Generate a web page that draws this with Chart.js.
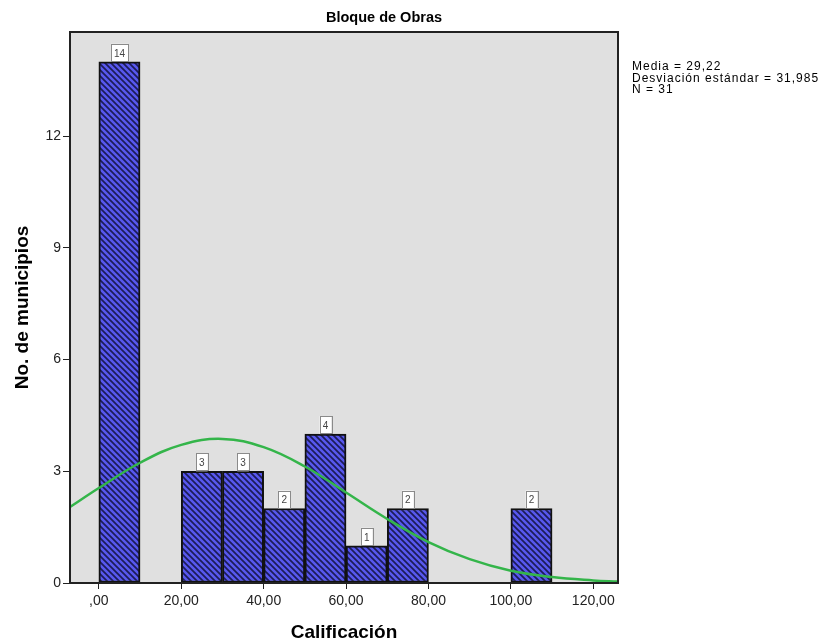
<!DOCTYPE html>
<html>
<head>
<meta charset="utf-8">
<script src="https://cdn.jsdelivr.net/npm/chart.js@4"></script>
<style>
  body { margin: 0; background: #fff; }
  #wrap { position: relative; width: 820px; height: 644px; }
  #stats {
    position: absolute; left: 632px; top: 61px;
    font: 12px "Liberation Sans", Arial, sans-serif;
    letter-spacing: 1px; line-height: 11.5px; color: #000; white-space: pre;
  }
</style>
</head>
<body>
<div id="wrap">
  <canvas id="hist" width="820" height="644"></canvas>
  <div id="stats">Media = 29,22
Desviación estándar = 31,985
N = 31</div>
</div>
<script>
const binCenters = [5, 15, 25, 35, 45, 55, 65, 75, 85, 95, 105];
const counts = [14, 0, 3, 3, 2, 4, 1, 2, 0, 0, 2];

// normal curve
const curveX = [-7, 0, 10, 20, 30, 40, 50, 60, 70, 80, 90, 100, 110, 120, 126];
const curveY = [2.04, 2.55, 3.23, 3.71, 3.87, 3.65, 3.13, 2.43, 1.72, 1.10, 0.64, 0.33, 0.16, 0.07, 0.04];

const xTicks = [0, 20, 40, 60, 80, 100, 120];
const xTickLabels = [",00", "20,00", "40,00", "60,00", "80,00", "100,00", "120,00"];
const yTicks = [0, 3, 6, 9, 12];

const titleText = "Bloque de Obras";
const xTitle = "Calificación";
const yTitle = "No. de municipios";

const FONT = "'Liberation Sans', Arial, sans-serif";
Chart.defaults.font.family = FONT;

const makeHatch = () => {
  const c = document.createElement("canvas");
  c.width = 6;
  c.height = 6;
  const g = c.getContext("2d");
  g.fillStyle = "#5858ee";
  g.fillRect(0, 0, 6, 6);
  g.strokeStyle = "#1c1c58";
  g.lineWidth = 1.7;
  g.beginPath();
  g.moveTo(-1, -1); g.lineTo(7, 7);
  g.moveTo(-1, 5); g.lineTo(1, 7);
  g.moveTo(5, -1); g.lineTo(7, 1);
  g.stroke();
  return g.createPattern(c, "repeat");
};

const decor = {
  id: "decor",
  beforeDraw(chart) {
    const { ctx, chartArea: a } = chart;
    ctx.save();
    ctx.fillStyle = "#e0e0e0";
    ctx.fillRect(a.left, a.top, a.right - a.left, a.bottom - a.top);
    ctx.restore();
  },
  afterDatasetsDraw(chart) {
    const { ctx } = chart;
    const meta = chart.getDatasetMeta(1);
    ctx.save();
    ctx.font = "10px " + FONT;
    ctx.textAlign = "center";
    ctx.textBaseline = "middle";
    meta.data.forEach((bar, i) => {
      if (!counts[i]) return;
      const txt = String(counts[i]);
      const w = ctx.measureText(txt).width + 6;
      const h = 18;
      const top = bar.y - h;
      ctx.fillStyle = "#fff";
      ctx.fillRect(bar.x - w / 2, top, w, h);
      ctx.strokeStyle = "#8a8a8a";
      ctx.lineWidth = 1;
      ctx.strokeRect(Math.round(bar.x - w / 2) + 0.5, Math.round(top) + 0.5, Math.round(w), h - 1);
      ctx.fillStyle = "#444";
      ctx.fillText(txt, bar.x, top + h / 2 + 1);
    });
    ctx.restore();
  },
  afterDraw(chart) {
    const { ctx, chartArea: a } = chart;
    ctx.save();
    ctx.strokeStyle = "#222";
    ctx.lineWidth = 2;
    ctx.strokeRect(a.left, a.top, a.right - a.left, a.bottom - a.top);
    ctx.fillStyle = "#000";
    ctx.font = "bold 14.5px " + FONT;
    ctx.textAlign = "center";
    ctx.textBaseline = "middle";
    ctx.fillText(titleText, 384, 18);
    ctx.restore();
  }
};

const ctx = document.getElementById("hist").getContext("2d");

new Chart(ctx, {
  type: "bar",
  data: {
    datasets: [
      {
        type: "line",
        data: curveX.map((x, i) => ({ x, y: curveY[i] })),
        borderColor: "#34b54a",
        borderWidth: 2.5,
        pointRadius: 0,
        tension: 0.4,
        fill: false,
        order: 0
      },
      {
        type: "bar",
        data: binCenters.map((x, i) => ({ x, y: counts[i] })),
        backgroundColor: makeHatch(),
        borderColor: "#111",
        borderWidth: 2,
        borderSkipped: false,
        barPercentage: 1,
        categoryPercentage: 1,
        order: 1
      }
    ]
  },
  options: {
    responsive: false,
    animation: false,
    layout: { padding: { top: 32, right: 202, left: 0, bottom: 0 } },
    plugins: {
      legend: { display: false },
      tooltip: { enabled: false }
    },
    scales: {
      x: {
        type: "linear",
        min: -7,
        max: 126,
        offset: false,
        afterBuildTicks: (s) => { s.ticks = xTicks.map((v) => ({ value: v })); },
        afterFit: (s) => { s.height = 61; },
        ticks: {
          color: "#222",
          font: { size: 14 },
          padding: 4,
          maxRotation: 0,
          autoSkip: false,
          callback: (v, i) => xTickLabels[i]
        },
        grid: { offset: false, drawOnChartArea: false, drawTicks: true, tickLength: 6, color: "#222" },
        border: { display: false },
        title: { display: true, text: xTitle, color: "#000", font: { size: 19, weight: "bold" }, padding: { top: 0, bottom: 0 } }
      },
      y: {
        min: 0,
        max: 14.8,
        afterBuildTicks: (s) => { s.ticks = yTicks.map((v) => ({ value: v })); },
        afterFit: (s) => { s.width = 70; },
        ticks: { color: "#222", font: { size: 14 }, padding: 2 },
        grid: { drawOnChartArea: false, drawTicks: true, tickLength: 7, color: "#222" },
        border: { display: false },
        title: { display: true, text: yTitle, color: "#000", font: { size: 19, weight: "bold" }, padding: { top: 11, bottom: 0 } }
      }
    }
  },
  plugins: [decor]
});
</script>
</body>
</html>
